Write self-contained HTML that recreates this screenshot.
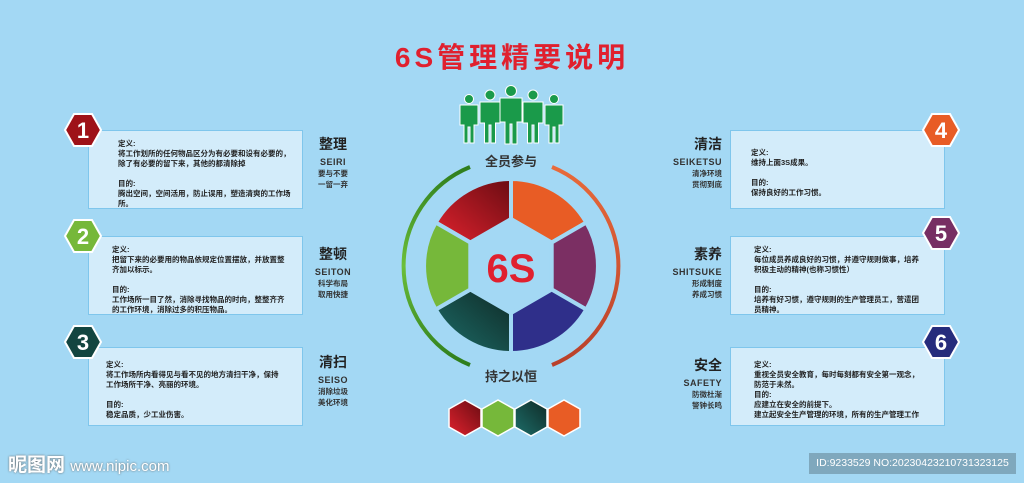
<!DOCTYPE html>
<html><head><meta charset="utf-8"><style>
body{margin:0;width:1024px;height:483px;background:#a3d8f4;position:relative;overflow:hidden;font-family:"Liberation Sans","Noto Sans CJK SC",sans-serif}
.t{position:absolute;white-space:nowrap}
.box{position:absolute;width:215px;height:79px;background:#d3ecfa;border:1.5px solid #7fc6ec;box-sizing:border-box}
.bt{position:absolute;font-size:7.5px;font-weight:bold;line-height:10px;color:#222;white-space:nowrap}
.lab{position:absolute;text-align:center;color:#333;font-weight:bold}
.lab .h{font-size:14px;line-height:18px;color:#222}
.lab .e{font-size:9px;letter-spacing:.5px;margin-top:3px;line-height:12px}
.lab .s{font-size:7.5px;line-height:11px}
</style></head><body>
<div class="t" style="left:0;width:1024px;top:36px;text-align:center;font-size:28px;font-weight:bold;color:#e0202e;letter-spacing:4px">6S管理精要说明</div>

<div class="box" style="left:88px;top:130px"></div>
<div class="bt" style="left:118px;top:139px">定义:<br>将工作划所的任何物品区分为有必要和设有必要的，<br>除了有必要的留下来，其他的都清除掉<br><br>目的:<br>腾出空间，空间活用，防止误用，塑造清爽的工作场<br>所。</div>
<div class="box" style="left:88px;top:236px"></div>
<div class="bt" style="left:112px;top:245px">定义:<br>把留下来的必要用的物品依规定位置摆放，并放置整<br>齐加以标示。<br><br>目的:<br>工作场所一目了然，消除寻找物品的时向，整整齐齐<br>的工作环境，消除过多的积压物品。</div>
<div class="box" style="left:88px;top:347px"></div>
<div class="bt" style="left:106px;top:360px">定义:<br>将工作场所内看得见与看不见的地方清扫干净，保持<br>工作场所干净、亮丽的环境。<br><br>目的:<br>稳定品质，少工业伤害。</div>

<div class="box" style="left:730px;top:130px"></div>
<div class="bt" style="left:751px;top:148px">定义:<br>维持上面3S成果。<br><br>目的:<br>保持良好的工作习惯。</div>
<div class="box" style="left:730px;top:236px"></div>
<div class="bt" style="left:754px;top:245px">定义:<br>每位成员养成良好的习惯，并遵守规则做事，培养<br>积极主动的精神(也称习惯性）<br><br>目的:<br>培养有好习惯，遵守规则的生产管理员工，营遣团<br>员精神。</div>
<div class="box" style="left:730px;top:347px"></div>
<div class="bt" style="left:754px;top:360px">定义:<br>重视全员安全教育，每时每刻都有安全第一观念，<br>防范于未然。<br>目的:<br>应建立在安全的前提下。<br>建立起安全生产管理的环境，所有的生产管理工作</div>

<div class="lab" style="left:303px;width:60px;top:135px"><div class="h">整理</div><div class="e">SEIRI</div><div class="s">要与不要<br>一留一弃</div></div>
<div class="lab" style="left:303px;width:60px;top:245px"><div class="h">整顿</div><div class="e">SEITON</div><div class="s">科学布局<br>取用快捷</div></div>
<div class="lab" style="left:303px;width:60px;top:353px"><div class="h">清扫</div><div class="e">SEISO</div><div class="s">消除垃圾<br>美化环境</div></div>
<div class="lab" style="left:660px;width:62px;top:135px;text-align:right"><div class="h">清洁</div><div class="e">SEIKETSU</div><div class="s">清净环境<br>贯彻到底</div></div>
<div class="lab" style="left:660px;width:62px;top:245px;text-align:right"><div class="h">素养</div><div class="e">SHITSUKE</div><div class="s">形成制度<br>养成习惯</div></div>
<div class="lab" style="left:660px;width:62px;top:356px;text-align:right"><div class="h">安全</div><div class="e">SAFETY</div><div class="s">防微杜渐<br>警钟长鸣</div></div>

<svg width="1024" height="483" style="position:absolute;left:0;top:0">
<defs>
<linearGradient id="gr" x1="0" y1="1" x2="1" y2="0"><stop offset="0" stop-color="#e0222e"/><stop offset="1" stop-color="#6a0c12"/></linearGradient>
<linearGradient id="gt" x1="0" y1="1" x2="1" y2="0"><stop offset="0" stop-color="#1d6e6a"/><stop offset="1" stop-color="#0f2a26"/></linearGradient>
<linearGradient id="lg" x1="0" y1="0" x2="0" y2="1"><stop offset="0" stop-color="#2e7d1c"/><stop offset=".5" stop-color="#6cbf3a"/><stop offset="1" stop-color="#2e7d1c"/></linearGradient>
<linearGradient id="rg" x1="0" y1="0" x2="0" y2="1"><stop offset="0" stop-color="#e86a3a"/><stop offset="1" stop-color="#b9402a"/></linearGradient>
</defs>
<g stroke="#a3d8f4" stroke-width="4" stroke-linejoin="round">
<path d="M435.7,222.5 A87,87 0 0 1 511,179 L511,219 L470.3,242.5 Z" fill="url(#gr)"/>
<path d="M511,179 A87,87 0 0 1 586.3,222.5 L551.7,242.5 L511,219 Z" fill="#e85c25"/>
<path d="M586.3,222.5 A87,87 0 0 1 586.3,309.5 L551.7,289.5 L551.7,242.5 Z" fill="#7b2f63"/>
<path d="M586.3,309.5 A87,87 0 0 1 511,353 L511,313 L551.7,289.5 Z" fill="#2f2f8a"/>
<path d="M511,353 A87,87 0 0 1 435.7,309.5 L470.3,289.5 L511,313 Z" fill="url(#gt)"/>
<path d="M435.7,309.5 A87,87 0 0 1 435.7,222.5 L470.3,242.5 L470.3,289.5 Z" fill="#76b83a"/>
</g>
<path d="M470,167 A107,107 0 0 0 470,365" fill="none" stroke="url(#lg)" stroke-width="4"/>
<path d="M552,167 A107,107 0 0 1 552,365" fill="none" stroke="url(#rg)" stroke-width="4"/>
<text x="511" y="282" text-anchor="middle" font-size="40" font-weight="bold" fill="#e0202e" font-family="Liberation Sans,sans-serif">6S</text>
<text x="511" y="166" text-anchor="middle" font-size="13" font-weight="bold" fill="#333" font-family="Liberation Sans,Noto Sans CJK SC,sans-serif">全员参与</text>
<text x="511" y="381" text-anchor="middle" font-size="13" font-weight="bold" fill="#333" font-family="Liberation Sans,Noto Sans CJK SC,sans-serif">持之以恒</text>
<g fill="#1a9a4a" stroke="#fff" stroke-width="1">
<g transform="translate(469,99)"><circle cx="0" cy="0" r="4.5"/><path d="M-9,6 H9 V26 H5 V44 H1 V28 H-1 V44 H-5 V26 H-9 Z"/></g>
<g transform="translate(490,95)"><circle cx="0" cy="0" r="5"/><path d="M-10,7 H10 V28 H5.5 V48 H1 V30 H-1 V48 H-5.5 V28 H-10 Z"/></g>
<g transform="translate(511,91)"><circle cx="0" cy="0" r="5.5"/><path d="M-11,7 H11 V31 H6 V53 H1 V33 H-1 V53 H-6 V31 H-11 Z"/></g>
<g transform="translate(533,95)"><circle cx="0" cy="0" r="5"/><path d="M-10,7 H10 V28 H5.5 V48 H1 V30 H-1 V48 H-5.5 V28 H-10 Z"/></g>
<g transform="translate(554,99)"><circle cx="0" cy="0" r="4.5"/><path d="M-9,6 H9 V26 H5 V44 H1 V28 H-1 V44 H-5 V26 H-9 Z"/></g>
</g>
<g stroke="#fff" stroke-width="1.5">
<polygon points="449,409 465,400 481,409 481,427 465,436 449,427" fill="url(#gr)"/>
<polygon points="482,409 498,400 514,409 514,427 498,436 482,427" fill="#76b83a"/>
<polygon points="515,409 531,400 547,409 547,427 531,436 515,427" fill="url(#gt)"/>
<polygon points="548,409 564,400 580,409 580,427 564,436 548,427" fill="#e85c25"/>
</g>
<g stroke="#fff" stroke-width="2">
<polygon points="65,130 74,114 92,114 101,130 92,146 74,146" fill="#9e1218"/>
<polygon points="65,236 74,220 92,220 101,236 92,252 74,252" fill="#76b83a"/>
<polygon points="65,342 74,326 92,326 101,342 92,358 74,358" fill="#134540"/>
<polygon points="923,130 932,114 950,114 959,130 950,146 932,146" fill="#e85c25"/>
<polygon points="923,233 932,217 950,217 959,233 950,249 932,249" fill="#772e63"/>
<polygon points="923,342 932,326 950,326 959,342 950,358 932,358" fill="#262c7c"/>
</g>
<g fill="#fff" font-family="Liberation Sans,sans-serif" font-size="22" font-weight="bold" text-anchor="middle">
<text x="83" y="138">1</text><text x="83" y="244">2</text><text x="83" y="350">3</text>
<text x="941" y="138">4</text><text x="941" y="241">5</text><text x="941" y="350">6</text>
</g>
</svg>
<div class="t" style="left:8px;top:450px;font-size:19px;color:#fff;font-weight:bold;text-shadow:0 0 2px #666">昵图网 <span style="font-size:15px;font-weight:normal">www.nipic.com</span></div>
<div class="t" style="left:809px;top:453px;width:207px;height:21px;background:#7fa8bd;color:#fff;font-size:10.5px;line-height:21px;text-align:center">ID:9233529 NO:20230423210731323125</div>
</body></html>
